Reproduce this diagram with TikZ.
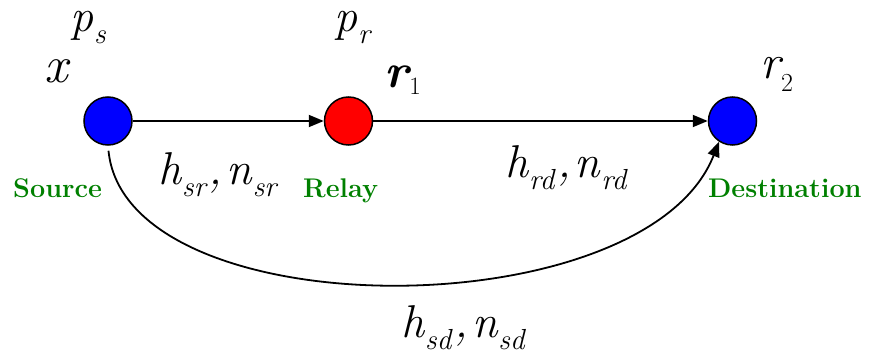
\documentclass[tikz,border=0pt]{standalone}
\usepackage{fontspec}
\usetikzlibrary{arrows.meta}
\definecolor{lblgreen}{RGB}{0,128,0}
\newcommand\mfont{\fontsize{46}{46}\selectfont\itshape}
\newcommand\sfnt{\fontsize{29}{29}\selectfont\itshape}
\newcommand\symsub[2]{{\mfont #1}\kern1pt\raisebox{-12pt}{\sfnt #2}}
\newcommand\hnpair[1]{\symsub{h}{#1}\kern3pt{\mfont ,}\kern4pt\symsub{n}{#1}}
\begin{document}
\begin{tikzpicture}[x=1pt,y=-1pt,
  station/.style={circle,draw=black,line width=1.5pt,minimum size=48pt,inner sep=0pt},
  lbl/.style={inner sep=0pt,anchor=base west},
  role/.style={inner sep=0pt,anchor=base west,text=lblgreen,font=\fontsize{27}{27}\selectfont\bfseries},
  link/.style={line width=1.8pt,-{Triangle[length=15pt,width=12pt]}}]
\useasboundingbox (0,0) rectangle (870,358);
\node[station,fill=blue] (s) at (108,121) {};
\node[station,fill=red] (r) at (348.5,121) {};
\node[station,fill=blue] (d) at (732.5,121) {};
\draw[link] (s) -- (r);
\draw[link] (r) -- (d);
\draw[link,shorten <=5pt] (s.south) .. controls (126,330) and (645,330) .. (d.-123);
% labels
\node[lbl] (ps) at (70,32) {\symsub{p}{s}};
\node[lbl] (xl) at (44,83) {\fontsize{52}{52}\selectfont\itshape x};
\node[lbl] (pr) at (334,32) {\symsub{p}{r}};
\node[lbl] (r1) at (384,88) {{\fontsize{48}{48}\selectfont\bfseries\itshape r}\kern1pt\raisebox{-7pt}{\fontsize{25}{25}\selectfont 1}};
\node[lbl] (r2) at (760,79) {{\fontsize{48}{48}\selectfont\itshape r}\kern1pt\raisebox{-13pt}{\fontsize{26}{26}\selectfont 2}};
\node[lbl] (hsr) at (158,185) {\hnpair{sr}};
\node[lbl] (hrd) at (505,178) {\hnpair{rd}};
\node[lbl] (hsd) at (401,337) {\hnpair{sd}};
\node[role] (src) at (13,198) {Source};
\node[role] (rly) at (303,198) {Relay};
\node[role] (dst) at (708,198) {Destination};
\end{tikzpicture}
\end{document}
